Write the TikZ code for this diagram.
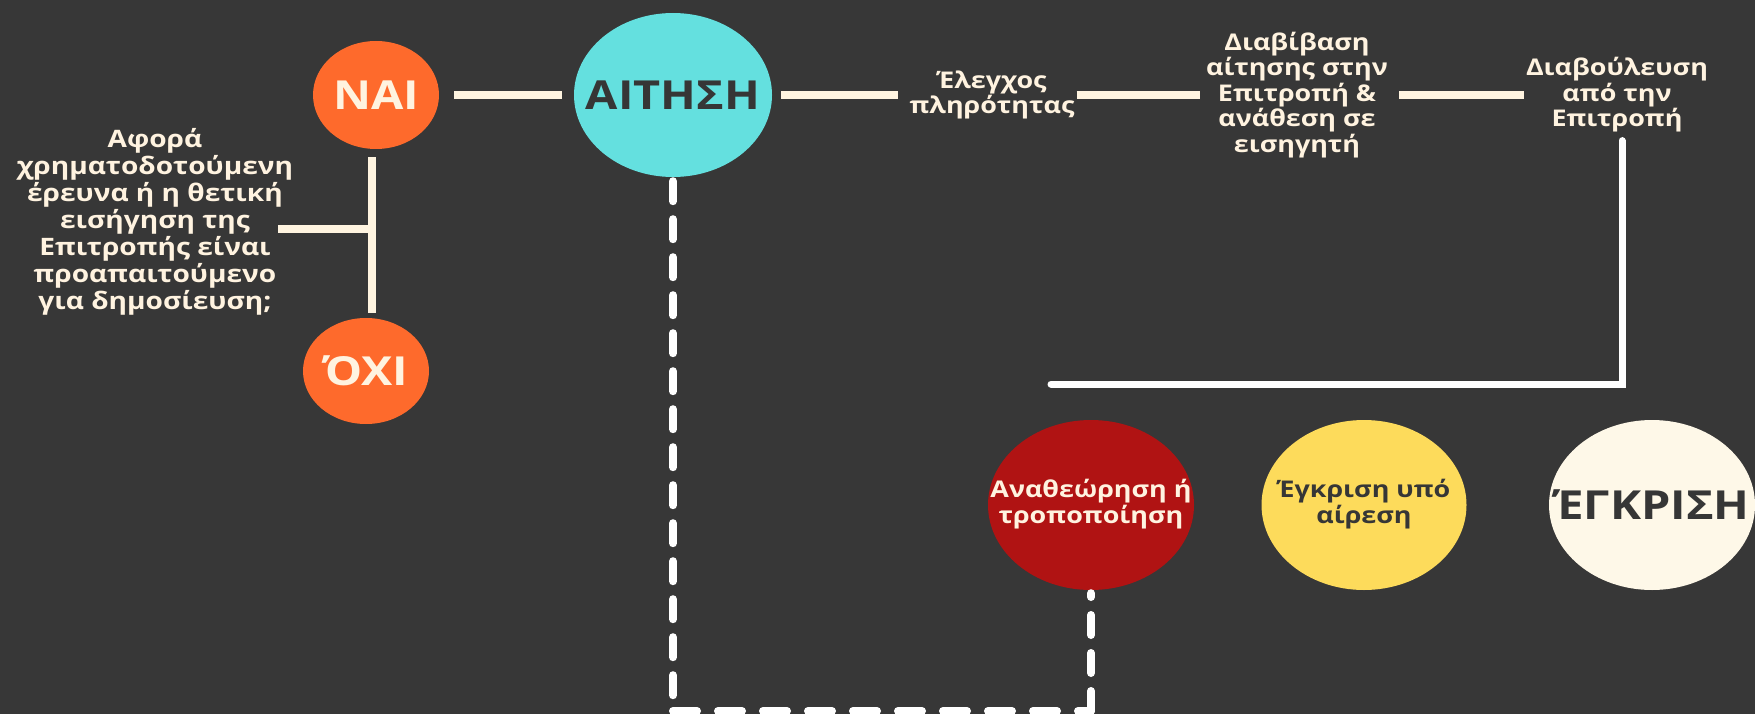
\documentclass[tikz,border=0pt]{standalone}
\usepackage{fontspec}
\newfontfamily\labfont{Open Sans}[FakeStretch=1.17]
\usetikzlibrary{shapes.geometric}
\definecolor{bgc}{HTML}{373737}
\definecolor{orangec}{HTML}{FE6A2C}
\definecolor{cyanc}{HTML}{64E0DF}
\definecolor{redc}{HTML}{B01313}
\definecolor{yellowc}{HTML}{FDDB5B}
\definecolor{creamfill}{HTML}{FEF8E8}
\definecolor{creamline}{HTML}{FFF4E0}
\definecolor{creamtext}{HTML}{FFF3E0}
\definecolor{darktext}{HTML}{363636}
\tikzset{
  bubble/.style={ellipse, inner sep=0pt, draw=none},
  bigtext/.style={font=\labfont\bfseries\fontsize{40}{44}\selectfont},
  smalltext/.style={font=\labfont\bfseries\fontsize{23}{25.5}\selectfont},
  lab/.style={smalltext, text=creamtext, align=center, inner sep=2pt},
  creamconn/.style={draw=creamline, line width=8pt},
  whiteconn/.style={draw=white, line width=7pt, line cap=round},
  dashconn/.style={draw=white, line width=8pt, line cap=round, dash pattern=on 20pt off 18pt},
  dashconnh/.style={draw=white, line width=8pt, line cap=round, dash pattern=on 24pt off 21pt},
}
\newcommand{\zw}[1]{\makebox[0pt][c]{#1}}
\begin{document}
\begin{tikzpicture}[x=1pt,y=-1pt]
\fill[bgc] (0,0) rectangle (1755,714);
\useasboundingbox (0,0) rectangle (1755,714);

% ellipses
\node[bubble, fill=orangec, minimum width=126pt, minimum height=108pt, bigtext, text=creamtext] (nai) at (376,95) {\zw{ΝΑΙ}};
\node[bubble, fill=orangec, minimum width=126pt, minimum height=106pt, bigtext, text=creamtext] (oxi) at (366,371) {\zw{ΌΧΙ}};
\node[bubble, fill=cyanc, minimum width=198pt, minimum height=164pt, bigtext, text=darktext] (aitisi) at (673,95) {\zw{ΑΙΤΗΣΗ}};
\node[bubble, fill=redc, minimum width=206pt, minimum height=170pt, smalltext, text=creamtext] (anath) at (1091,505)
  {\zw{\begin{tabular}{@{}c@{}}Αναθεώρηση ή\\τροποποίηση\end{tabular}}};
\node[bubble, fill=yellowc, minimum width=205pt, minimum height=170pt, smalltext, text=darktext] (yposairesi) at (1364,505)
  {\zw{\begin{tabular}{@{}c@{}}Έγκριση υπό\\αίρεση\end{tabular}}};
\node[bubble, fill=creamfill, minimum width=206pt, minimum height=170pt, bigtext, text=darktext] (egkrisi) at (1652,505) {\zw{ΈΓΚΡΙΣΗ}};

% text labels
\node[lab, font=\labfont\bfseries\fontsize{24}{27}\selectfont] (afora) at (155,222)
  {Αφορά\\χρηματοδοτούμενη\\έρευνα ή η θετική\\εισήγηση της\\Επιτροπής είναι\\προαπαιτούμενο\\για δημοσίευση;};
\node[lab] (elegxos) at (992,95) {Έλεγχος\\πληρότητας};
\node[lab] (diavivasi) at (1297,95) {Διαβίβαση\\αίτησης στην\\Επιτροπή \&\\ανάθεση σε\\εισηγητή};
\node[lab] (diavoul) at (1617,95) {Διαβούλευση\\από την\\Επιτροπή};

% coordinates
\coordinate (j) at (372,229);
\coordinate (qend) at (278,229);
\coordinate (lend) at (1051,384);
\coordinate (dbot) at (673,711);
\coordinate (dcorner) at (1091,711);

% connectors
\draw[creamconn, shorten <=15pt, shorten >=12pt] (nai) -- (aitisi);
\draw[creamconn, shorten <=9pt, shorten >=9pt] (aitisi) -- (elegxos);
\draw[creamconn, shorten >=4pt] (elegxos) -- (diavivasi);
\draw[creamconn, shorten <=9pt] (diavivasi) -- (diavoul);
\draw[creamconn, shorten <=8pt, shorten >=5pt] (nai.south -| j) -- (oxi.north -| j);
\draw[creamconn] (qend) -- (j);
\draw[whiteconn, shorten <=6pt] ([xshift=5pt]diavoul.south) |- (lend);
\draw[dashconn, shorten <=4pt] (aitisi.south) -- (dbot);
\draw[dashconnh] (dbot) -- (dcorner);
\draw[dashconn, shorten >=3pt] (dcorner) -- (anath.south);
\end{tikzpicture}
\end{document}
